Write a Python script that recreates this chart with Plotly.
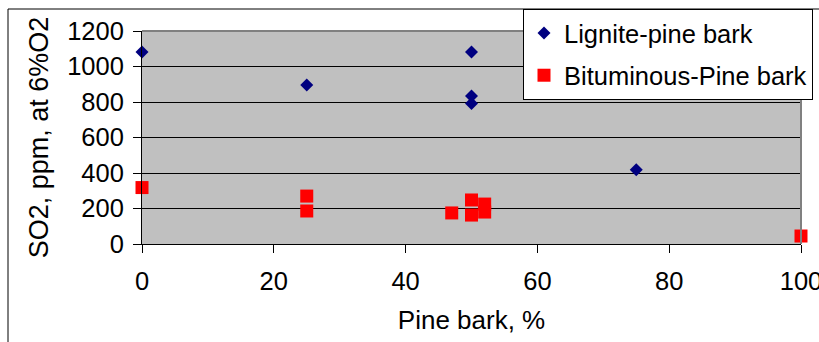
import plotly.graph_objects as go

lig_x = [0, 25, 50, 50, 50, 75]
lig_y = [1082, 896, 1082, 834, 792, 418]
bit_x = [0, 25, 25, 47, 50, 50, 52, 52, 100]
bit_y = [318, 270, 186, 175, 248, 163, 225, 180, 45]
x_ticks = [0, 20, 40, 60, 80, 100]
y_ticks = [0, 200, 400, 600, 800, 1000, 1200]

L, R, T, B = 142, 18, 31, 98
W, H = 819, 342
pw, ph = W - L - R, H - T - B

fig = go.Figure()
fig.add_trace(go.Scatter(x=lig_x, y=lig_y, mode="markers", name="Lignite-pine bark",
                         marker=dict(symbol="diamond", size=10, color="#000080"),
                         legendgroup="a", cliponaxis=False))
fig.add_trace(go.Scatter(x=bit_x, y=bit_y, mode="markers", name="Bituminous-Pine bark",
                         marker=dict(symbol="square", size=13, color="#FF0000"),
                         legendgroup="b", cliponaxis=False))

fam = "Arial, Liberation Sans, sans-serif"
font = dict(family=fam, size=25.5, color="black")
fig.update_layout(
    width=W, height=H, margin=dict(l=L, r=R, t=T, b=B, autoexpand=False),
    paper_bgcolor="white", plot_bgcolor="#C0C0C0", font=font,
    showlegend=True,
    legend=dict(x=(523 - L) / pw, y=(244 - 9) / ph, xanchor="left", yanchor="top",
                bgcolor="white", bordercolor="black", borderwidth=1,
                font=font, tracegroupgap=6, traceorder="grouped",
                itemwidth=30),
    xaxis=dict(range=[0, 100], tickvals=x_ticks, showgrid=False, zeroline=False,
               showline=True, linecolor="black", linewidth=1, ticks="outside",
               ticklen=8, tickcolor="black", automargin=False,
               ticklabeloverflow="allow",
               title=dict(text="Pine bark, %", standoff=17, font=dict(family=fam, size=26)),
               ticklabelstandoff=6),
    yaxis=dict(range=[0, 1200], tickvals=y_ticks, showgrid=True, gridcolor="black",
               gridwidth=1, zeroline=False, showline=True, linecolor="black", linewidth=1,
               ticks="outside", ticklen=8, tickcolor="black", ticklabelstandoff=4,
               automargin=False,
               title=dict(text="SO2, ppm, at 6%O2", standoff=10, font=dict(family=fam, size=27))),
    shapes=[
        dict(type="rect", xref="paper", yref="paper", x0=(8 - L) / pw, x1=1.2,
             y0=-1, y1=(244 - 9) / ph, line=dict(color="black", width=1), layer="below"),
        dict(type="line", xref="paper", yref="paper", x0=0, x1=1, y0=1, y1=1,
             line=dict(color="#808080", width=2)),
        dict(type="line", xref="paper", yref="paper", x0=1, x1=1, y0=0, y1=1,
             line=dict(color="#808080", width=2)),
    ],
)
fig.write_html("out.html")
